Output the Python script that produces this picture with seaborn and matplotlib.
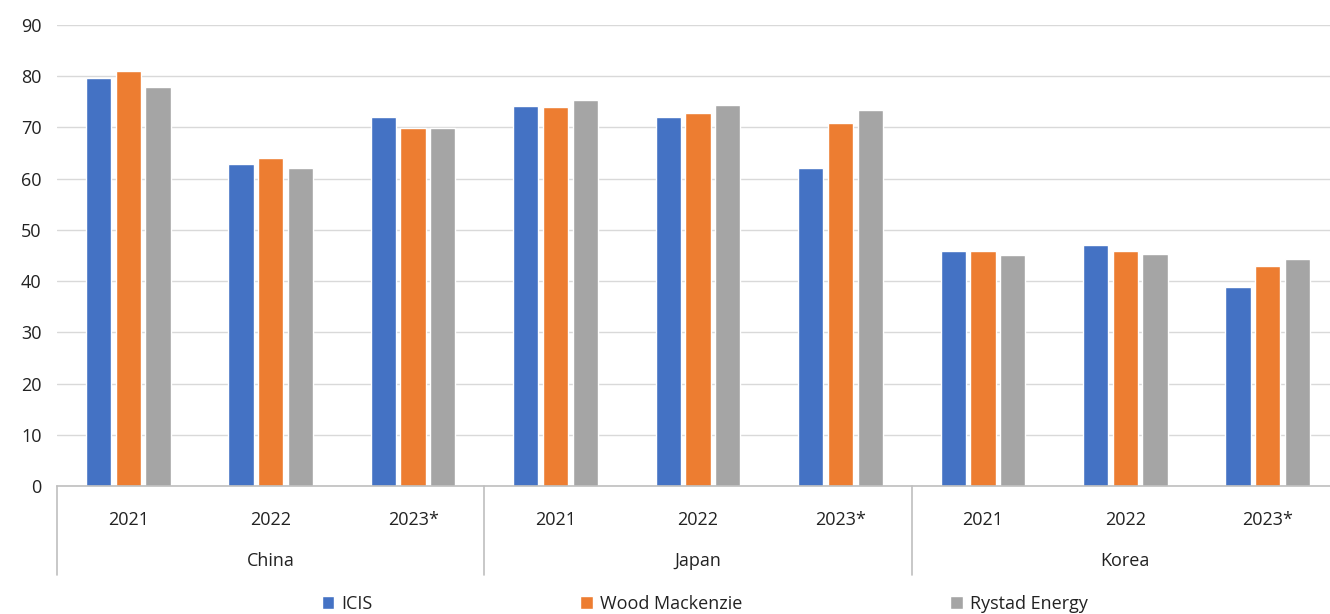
import numpy as np
import pandas as pd
import matplotlib
matplotlib.use("Agg")
import matplotlib.pyplot as plt
import matplotlib.transforms as mtransforms
from matplotlib.patches import Patch
import seaborn as sns

# data
countries = ["China", "Japan", "Korea"]
years = ["2021", "2022", "2023*"]
sources = ["ICIS", "Wood Mackenzie", "Rystad Energy"]
icis = [79.7, 62.8, 72.0, 74.2, 72.0, 62.0, 45.9, 47.0, 38.9]
wood_mackenzie = [81.1, 64.0, 69.8, 74.0, 72.9, 70.9, 45.9, 45.9, 43.0]
rystad_energy = [77.9, 62.0, 69.8, 75.3, 74.4, 73.5, 45.0, 45.2, 44.4]
colors = ["#4472c4", "#ed7d31", "#a5a5a5"]

rows = []
keys = []
for ci, c in enumerate(countries):
    for yi, y in enumerate(years):
        k = f"{c} {y}"
        keys.append(k)
        idx = ci * 3 + yi
        for s, vals in zip(sources, [icis, wood_mackenzie, rystad_energy]):
            rows.append({"key": k, "source": s, "value": vals[idx]})
df = pd.DataFrame(rows)

sns.set_style("white")
plt.rcParams['font.family'] = ['Open Sans', 'DejaVu Sans']

fig = plt.figure(figsize=(13.3, 6.14), dpi=100)
W, H = 1330, 614
# the plot area runs slightly past the right edge, as in the reference
ax = fig.add_axes([57 / W, (H - 486) / H, (1339 - 57) / W, (486 - 25) / H])

sns.barplot(data=df, x="key", y="value", hue="source", order=keys,
            hue_order=sources, palette=colors, width=0.625, gap=0.15,
            saturation=1, ax=ax, legend=False)

ax.set_ylim(0, 90)
ax.set_xlim(-0.5, 8.5)
ax.set_yticks(np.arange(0, 91, 10))
ax.yaxis.grid(True, color="#d9d9d9", linewidth=1)
ax.set_axisbelow(True)
for sp in ["top", "right", "left"]:
    ax.spines[sp].set_visible(False)
ax.spines["bottom"].set_color("#bfbfbf")
ax.spines["bottom"].set_linewidth(1.2)
ax.set_xlabel("")
ax.set_ylabel("")
ax.tick_params(axis="y", length=0, labelsize=13, colors="#222222", pad=11)
ax.set_xticks(range(len(keys)))
ax.set_xticklabels([y for c in countries for y in years])
ax.tick_params(axis="x", length=0, labelsize=13, colors="#222222", pad=18)

# group separators and country labels
trans = mtransforms.blended_transform_factory(ax.transData, ax.transAxes)
sep_len = 89 / (486 - 25)
for xb in [-0.5, 2.5, 5.5, 8.5]:
    ax.plot([xb, xb], [0, -sep_len], transform=trans, color="#bfbfbf",
            linewidth=1.2, clip_on=False)
for i, c in enumerate(countries):
    ax.text(i * 3 + 1, -75 / (486 - 25), c, transform=trans, ha="center",
            va="center", fontsize=13, color="#222222")

handles = [Patch(facecolor=col, label=s) for col, s in zip(colors, sources)]
fig.legend(handles=handles, loc="center", bbox_to_anchor=(0.53, 1 - 604 / H),
           ncol=3, frameon=False, fontsize=13, handlelength=0.7,
           handleheight=0.7, handletextpad=0.4, columnspacing=11.5,
           labelcolor="#222222")

fig.savefig("out.png", dpi=100)
